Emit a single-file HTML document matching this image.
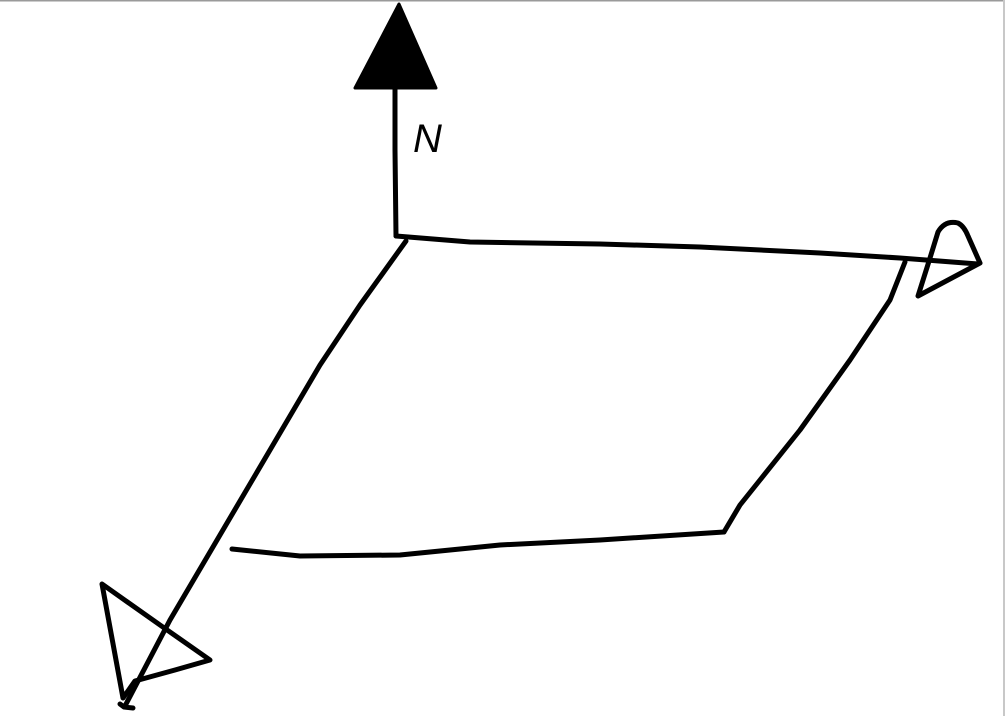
<!DOCTYPE html>
<html>
<head>
<meta charset="utf-8">
<style>
  html,body{margin:0;padding:0;background:#fff;}
  body{width:1005px;height:716px;overflow:hidden;}
  svg{display:block;}
</style>
</head>
<body>
<svg width="1005" height="716" viewBox="0 0 1005 716">
  <rect x="0" y="0" width="1005" height="716" fill="#fff"/>
  <line x1="0" y1="0.5" x2="1005" y2="0.5" stroke="#9a9a9a" stroke-width="2"/>
  <line x1="1004" y1="0" x2="1004" y2="716" stroke="#c8c8c8" stroke-width="2"/>
  <g fill="none" stroke="#000" stroke-width="5" stroke-linecap="round" stroke-linejoin="round">
    <path d="M395,86 L395,150 L396,236"/>
    <path d="M396,236 L470,242 L600,244 L700,247 L820,253 L900,258 L978,264"/>
    <path d="M918,296 L930,258 L938,232 Q945,220 958,223 Q964,226 968,236 L980,263 L918,296 Z"/>
    <path d="M406,241 L360,305 L320,365 L270,450 L220,535 L170,620 L125,706"/>
    <path d="M102,584 L160,625 L210,660 L175,670 L135,681 L123,698 L102,584 Z"/>
    <path d="M120,704 L124,707 L133,708"/>
    <path d="M905,262 L890,300 L850,360 L800,430 L760,480 L740,505 L724,532"/>
    <path d="M232,549 L300,556 L400,555 L500,545 L600,540 L724,532"/>
  </g>
  <path d="M399,4 L355,88 L436,88 Z" fill="#000" stroke="#000" stroke-width="3" stroke-linejoin="round"/>
  <text x="413" y="152" font-family="Liberation Sans, sans-serif" font-size="40" font-style="italic" fill="#000">N</text>
</svg>
</body>
</html>
